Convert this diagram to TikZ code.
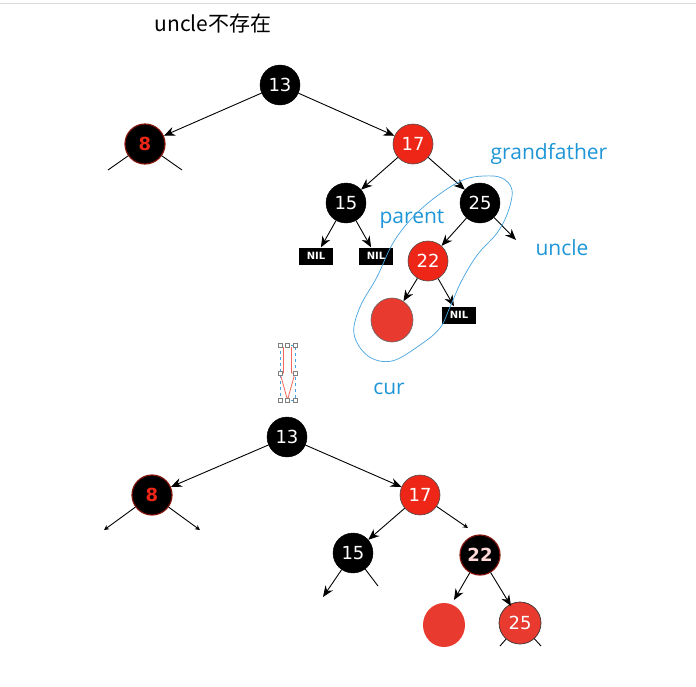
\documentclass[tikz,border=0pt]{standalone}
\usepackage{fontspec}
\setmainfont{DejaVu Sans}
\newfontfamily\cjk{Noto Sans CJK SC}
\newfontfamily\lbl{Open Sans}
\usetikzlibrary{arrows.meta}
\definecolor{rbred}{RGB}{238,38,24}
\definecolor{rbred2}{RGB}{232,58,46}
\definecolor{lblue}{RGB}{30,150,215}
\definecolor{loopblue}{RGB}{70,165,225}
\definecolor{darkred}{RGB}{130,20,10}
\tikzset{
  blk/.style={circle,fill=black,draw=black,minimum size=40pt,inner sep=0pt,text=white,font=\fontsize{18}{18}\selectfont},
  redn/.style={circle,fill=rbred,draw=black!70,line width=0.6pt,minimum size=40pt,inner sep=0pt,text=white,font=\fontsize{18}{18}\selectfont},
  blkred/.style={circle,fill=black,draw=darkred,line width=1.2pt,minimum size=40pt,inner sep=0pt,text=rbred,font=\fontsize{18}{18}\selectfont\bfseries},
  blankred/.style={ellipse,fill=rbred2,minimum width=42pt,minimum height=44pt,inner sep=0pt},
  nilbox/.style={rectangle,fill=black,minimum width=34pt,minimum height=17pt,inner sep=0pt,text=white,font=\fontsize{10}{10}\selectfont\bfseries},
  lab/.style={text=lblue,font=\lbl\fontsize{21}{21}\selectfont,inner sep=0pt},
  arr/.style={-{Stealth[length=11pt,width=9pt]},line width=0.9pt},
  ln/.style={line width=0.9pt},
  handle/.style={draw=gray,fill=white,line width=0.5pt,minimum size=4pt,inner sep=0pt,rectangle}
}
\usetikzlibrary{shapes.geometric}
\begin{document}
\begin{tikzpicture}[x=1pt,y=-1pt]
\useasboundingbox (0,0) rectangle (696,686);
\fill[white] (0,0) rectangle (696,686);
\draw[black!15,line width=1pt] (0,3) -- (696,3);
% title
\node[inner sep=0pt,font=\cjk\fontsize{21}{21}\selectfont] (title) at (213,24) {uncle不存在};
% ---------- top tree ----------
\node[blk] (a13) at (280,85) {13};
\node[blkred] (a8) at (145,144) {8};
\node[redn] (a17) at (413,144) {17};
\node[blk] (a15) at (346,203) {15};
\node[blk] (a25) at (480,203) {25};
\node[nilbox] (an1) at (316,256) {NIL};
\node[nilbox] (an2) at (376,256) {NIL};
\node[redn] (a22) at (428,261) {22};
\node[blankred,draw=black!60,line width=0.6pt] (acur) at (392,320) {};
\node[nilbox] (an3) at (459,315) {NIL};
\coordinate (a8l) at (108,170);
\coordinate (a8r) at (182,170);
\coordinate (aunc) at (516,240);
\draw[arr] (a13) -- (a8);
\draw[arr] (a13) -- (a17);
\draw[ln] (a8) -- (a8l);
\draw[ln] (a8) -- (a8r);
\draw[arr] (a17) -- (a15);
\draw[arr] (a17) -- (a25);
\draw[arr] (a15) -- (an1);
\draw[arr] (a15) -- (an2);
\draw[arr] (a25) -- (a22);
\draw[arr] (a25) -- (aunc);
\draw[arr] (a22) -- (acur);
\draw[arr] (a22) -- (an3);
% labels
\node[lab] (lgf) at (549,154) {grandfather};
\node[lab] (lpar) at (412,219) {parent};
\node[lab] (lunc) at (562,248) {uncle};
\node[lab] (lcur) at (389,389) {cur};
% freehand loop
\draw[loopblue,line width=0.7pt] plot[smooth cycle,tension=0.6] coordinates {
 (463,180) (484,176) (502,178) (512,190) (508,212) (497,233) (478,254)
 (462,280) (450,307) (440,328) (420,345) (392,361) (368,356) (354,334)
 (360,307) (377,277) (393,243) (413,217) (437,196)};
% hollow down arrow with selection handles
\draw[loopblue,dashed,line width=0.5pt] (280,345) rectangle (295,400);
\draw[rbred!70,line width=0.8pt] (283.5,347) -- (283.5,373) -- (280,373) -- (287.5,400) -- (295,373) -- (291.5,373) -- (291.5,347);
\foreach \hx/\hy [count=\i] in {280/345,287.5/345,295/345,280/373,295/373,280/400,287.5/400,295/400}
  \node[handle] (h\i) at (\hx,\hy) {};
% ---------- bottom tree ----------
\node[blk] (b13) at (287,437) {13};
\node[blkred] (b8) at (152,495) {8};
\node[redn] (b17) at (420,495) {17};
\node[blk] (b15) at (353,553) {15};
\node[circle,fill=black,draw=darkred,line width=1.2pt,minimum size=40pt,inner sep=0pt,text=red!15,font=\fontsize{18}{18}\selectfont\bfseries] (b22) at (480,555) {22};
\node[blankred] (bcur) at (444,625) {};
\node[circle,fill=rbred2,draw=black!80,line width=0.7pt,minimum size=42pt,inner sep=0pt,text=white,font=\fontsize{18}{18}\selectfont] (b25) at (520,623) {25};
\coordinate (b8l) at (104,530);
\coordinate (b8r) at (200,530);
\coordinate (b15l) at (323,597);
\coordinate (b15r) at (378,586);
\coordinate (b17r) at (468,528);
\coordinate (bcurt) at (454,600);
\coordinate (b25t) at (511,606);
\coordinate (b25l) at (500,646);
\coordinate (b25r) at (541,646);
\draw[arr] (b13) -- (b8);
\draw[arr] (b13) -- (b17);
\draw[-{Stealth[length=5pt,width=5pt]},line width=0.9pt] (b8) -- (b8l);
\draw[-{Stealth[length=5pt,width=5pt]},line width=0.9pt] (b8) -- (b8r);
\draw[arr] (b17) -- (b15);
\draw[-{Stealth[length=5pt,width=5pt]},line width=0.9pt] (b17) -- (b17r);
\draw[arr] (b15) -- (b15l);
\draw[ln] (b15) -- (b15r);
\draw[arr] (b22) -- (bcurt);
\draw[arr] (b22) -- (b25t);
\draw[ln] (b25) -- (b25l);
\draw[ln] (b25) -- (b25r);
\end{tikzpicture}
\end{document}
